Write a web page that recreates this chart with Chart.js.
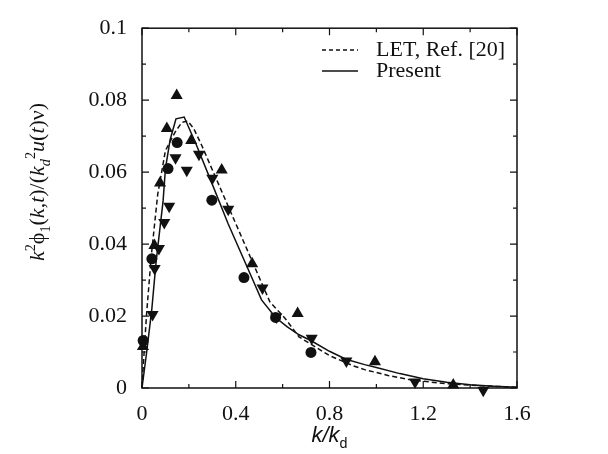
<!DOCTYPE html>
<html><head><meta charset="utf-8">
<script src="https://cdn.jsdelivr.net/npm/chart.js@4.4.0/dist/chart.umd.min.js"></script>
<style>html,body{margin:0;padding:0;background:#fff;}</style>
</head><body>
<canvas id="c" width="608" height="454" style="display:block;width:608px;height:454px"></canvas>
<script>
// ---- data ----
const presentK = [0, 0.02, 0.042, 0.06, 0.09, 0.10, 0.12, 0.145, 0.18, 0.233, 0.289, 0.367, 0.459, 0.51, 0.57, 0.62, 0.67, 0.72, 0.80, 0.87, 0.95, 1.0, 1.1, 1.2, 1.3, 1.4, 1.5, 1.6];
const presentV = [0, 0.010, 0.022, 0.035, 0.052, 0.061, 0.069, 0.0748, 0.0753, 0.0674, 0.0584, 0.0457, 0.0321, 0.0245, 0.0196, 0.0170, 0.0148, 0.0132, 0.0102, 0.0080, 0.0065, 0.0057, 0.0040, 0.0026, 0.0016, 0.0009, 0.0005, 0.0002];
const letK = [0, 0.01, 0.02, 0.04, 0.067, 0.10, 0.14, 0.17, 0.195, 0.22, 0.255, 0.315, 0.40, 0.491, 0.546, 0.61, 0.67, 0.72, 0.80, 0.90, 0.95, 1.05, 1.15, 1.3, 1.45, 1.6];
const letV = [0, 0.011, 0.021, 0.037, 0.0538, 0.066, 0.071, 0.0738, 0.0742, 0.0722, 0.0674, 0.0584, 0.0457, 0.0321, 0.0239, 0.0194, 0.0142, 0.0122, 0.0090, 0.0062, 0.0051, 0.0035, 0.0022, 0.0012, 0.0006, 0.0002];
const triUpK = [0.004, 0.053, 0.077, 0.106, 0.148, 0.21, 0.34, 0.47, 0.664, 0.994, 1.328];
const triUpV = [0.0115, 0.0396, 0.057, 0.0721, 0.0813, 0.0688, 0.0606, 0.0345, 0.0207, 0.0073, 0.0008];
const triDownK = [0.045, 0.054, 0.072, 0.095, 0.116, 0.143, 0.191, 0.243, 0.30, 0.368, 0.514, 0.573, 0.724, 0.872, 1.165, 1.456];
const triDownV = [0.0204, 0.0332, 0.0388, 0.046, 0.0505, 0.064, 0.0605, 0.065, 0.0583, 0.0497, 0.0278, 0.0197, 0.0138, 0.0075, 0.0017, -0.0006];
const circleK = [0.005, 0.042, 0.111, 0.150, 0.298, 0.435, 0.570, 0.721];
const circleV = [0.0132, 0.0359, 0.061, 0.0682, 0.0522, 0.0307, 0.0196, 0.0099];
const xTickLabels = ['0', '0.4', '0.8', '1.2', '1.6'];
const yTickLabels = ['0', '0.02', '0.04', '0.06', '0.08', '0.1'];
const legendLabels = ['LET, Ref. [20]', 'Present'];

const pts = (ks, vs) => ks.map((k, i) => ({x: k, y: vs[i]}));
const SERIF = '"Liberation Serif", "Times New Roman", serif';
const INK = '#111';

function richWidth(ctx, parts, S) {
  let w = 0;
  for (const p of parts) {
    const sz = p.pos === 'base' ? S : S * 0.65;
    ctx.font = (p.it ? 'italic ' : '') + sz + 'px ' + (p.fam || SERIF);
    w += ctx.measureText(p.t).width + (p.gap || 0);
  }
  return w;
}
function drawRich(ctx, parts, x, y, S) {
  let cx = x - richWidth(ctx, parts, S) / 2;
  ctx.textBaseline = 'alphabetic';
  ctx.textAlign = 'left';
  for (const p of parts) {
    const sz = p.pos === 'base' ? S : S * 0.65;
    ctx.font = (p.it ? 'italic ' : '') + sz + 'px ' + (p.fam || SERIF);
    const dy = p.pos === 'sub' ? S * 0.28 : (p.pos === 'sup' ? -S * 0.42 : 0);
    ctx.fillText(p.t, cx, y + dy);
    cx += ctx.measureText(p.t).width + (p.gap || 0);
  }
}

const framePlugin = {
  id: 'frame',
  afterDraw(chart) {
    const {ctx, chartArea: a, scales: {x, y}} = chart;
    ctx.save();
    ctx.strokeStyle = INK;
    ctx.lineWidth = 1.5;
    ctx.strokeRect(a.left, a.top, a.right - a.left, a.bottom - a.top);
    ctx.lineWidth = 1.2;
    ctx.beginPath();
    for (let i = 0; i <= 8; i++) {
      const v = i * 0.2, px = x.getPixelForValue(v), L = (i % 2 === 0) ? 7 : 4;
      ctx.moveTo(px, a.bottom); ctx.lineTo(px, a.bottom - L);
      ctx.moveTo(px, a.top); ctx.lineTo(px, a.top + L);
    }
    for (let i = 0; i <= 10; i++) {
      const v = i * 0.01, py = y.getPixelForValue(v), L = (i % 2 === 0) ? 7 : 4;
      ctx.moveTo(a.left, py); ctx.lineTo(a.left + L, py);
      ctx.moveTo(a.right, py); ctx.lineTo(a.right - L, py);
    }
    ctx.stroke();

    // legend
    const lx0 = 322, lx1 = 358, tx = 376, ly = [50, 71];
    ctx.lineWidth = 1.4;
    ctx.setLineDash([4, 3]);
    ctx.beginPath(); ctx.moveTo(lx0, ly[0]); ctx.lineTo(lx1, ly[0]); ctx.stroke();
    ctx.setLineDash([]);
    ctx.beginPath(); ctx.moveTo(lx0, ly[1]); ctx.lineTo(lx1, ly[1]); ctx.stroke();
    ctx.fillStyle = INK;
    ctx.font = '22px ' + SERIF;
    ctx.textBaseline = 'middle';
    ctx.textAlign = 'left';
    ctx.fillText(legendLabels[0], tx, ly[0]);
    ctx.fillText(legendLabels[1], tx, ly[1]);

    // x title
    const SANS = '"Liberation Sans", Arial, sans-serif';
    drawRich(ctx, [
      {t: 'k/k', it: true, pos: 'base', fam: SANS},
      {t: 'd', pos: 'sub', fam: SANS}
    ], (a.left + a.right) / 2, 442, 22);

    // y title
    ctx.save();
    ctx.translate(44, 182);
    ctx.rotate(-Math.PI / 2);
    drawRich(ctx, [
      {t: 'k', it: true, pos: 'base'},
      {t: '2', pos: 'sup'},
      {t: 'ϕ', pos: 'base'},
      {t: '1', pos: 'sub'},
      {t: '(', pos: 'base'},
      {t: 'k', it: true, pos: 'base'},
      {t: ',', pos: 'base'},
      {t: 't', it: true, pos: 'base'},
      {t: ')/(', pos: 'base'},
      {t: 'k', it: true, pos: 'base'},
      {t: 'd', it: true, pos: 'sub'},
      {t: '2', pos: 'sup'},
      {t: 'u', it: true, pos: 'base'},
      {t: '(', pos: 'base'},
      {t: 't', it: true, pos: 'base'},
      {t: ')', pos: 'base'},
      {t: 'ν', pos: 'base'},
      {t: ')', pos: 'base'}
    ], 0, 0, 22);
    ctx.restore();
    ctx.restore();
  }
};

const lineBase = {type: 'line', pointRadius: 0, borderColor: INK, borderWidth: 1.5, fill: false, tension: 0, clip: false};
const markBase = {type: 'line', showLine: false, backgroundColor: INK, borderColor: INK, borderWidth: 0, clip: false};

new Chart(document.getElementById('c'), {
  data: {
    datasets: [
      Object.assign({label: legendLabels[0], data: pts(letK, letV), borderDash: [5, 3]}, lineBase),
      Object.assign({label: legendLabels[1], data: pts(presentK, presentV)}, lineBase),
      Object.assign({label: 'up', data: pts(triUpK, triUpV), pointStyle: 'triangle', pointRadius: 7, pointRotation: 0}, markBase),
      Object.assign({label: 'down', data: pts(triDownK, triDownV), pointStyle: 'triangle', pointRadius: 7, pointRotation: 180}, markBase),
      Object.assign({label: 'circle', data: pts(circleK, circleV), pointStyle: 'circle', pointRadius: 5.5}, markBase)
    ]
  },
  options: {
    responsive: false,
    animation: false,
    devicePixelRatio: 1,
    layout: {padding: {left: 0, right: 91, top: 20, bottom: 0}},
    plugins: {legend: {display: false}, tooltip: {enabled: false}},
    scales: {
      x: {
        type: 'linear', min: 0, max: 1.6,
        grid: {display: false, drawTicks: false}, border: {display: false},
        ticks: {
          stepSize: 0.2, autoSkip: false, maxRotation: 0, padding: 13, color: INK,
          font: {family: SERIF, size: 22},
          callback: (v) => { const i = Math.round(v / 0.4 * 1000) / 1000; return Number.isInteger(i) ? xTickLabels[i] : ''; }
        },
        afterFit: (s) => { s.height = 66; }
      },
      y: {
        type: 'linear', min: 0, max: 0.1,
        grid: {display: false, drawTicks: false}, border: {display: false},
        ticks: {
          stepSize: 0.01, autoSkip: false, padding: 15, color: INK,
          font: {family: SERIF, size: 22},
          callback: (v) => { const i = Math.round(v / 0.02 * 1000) / 1000; return Number.isInteger(i) ? yTickLabels[i] : ''; }
        },
        afterFit: (s) => { s.width = 142; }
      }
    }
  },
  plugins: [framePlugin]
});
</script>
</body></html>
